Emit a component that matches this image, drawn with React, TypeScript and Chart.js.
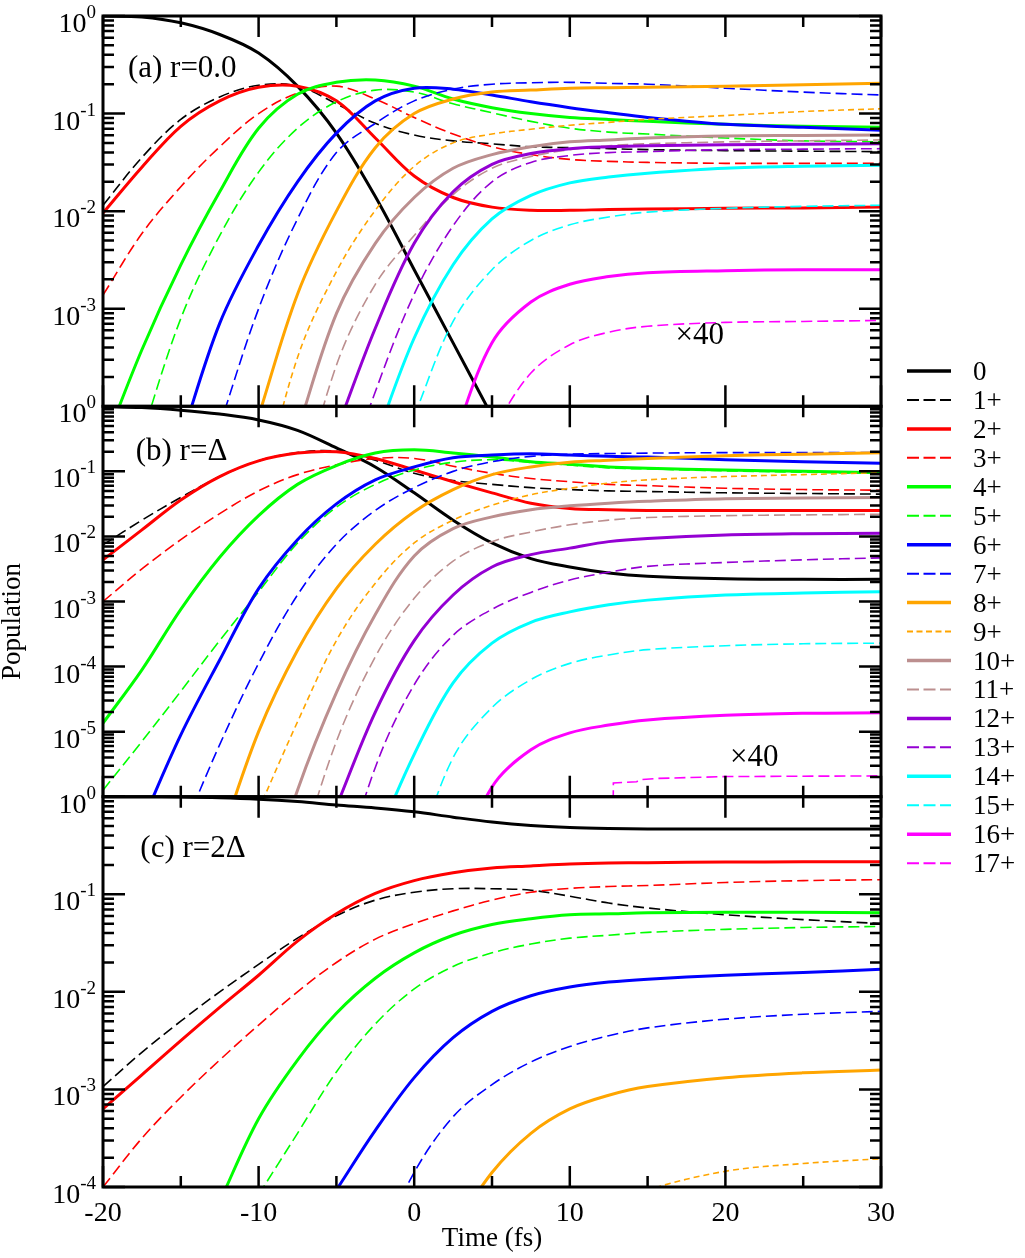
import React, { useEffect, useRef } from "react";
import { Chart, registerables } from "chart.js";

Chart.register(...registerables);

const _ = null;

// common time grid (fs)
const T = [-20, -17.5, -15, -12.5, -10, -7.5, -5, -2.5, 0, 2.5, 5, 7.5, 10, 12.5, 15, 20, 25, 30];

const SERIES_NAMES = ["0", "1+", "2+", "3+", "4+", "5+", "6+", "7+", "8+", "9+", "10+", "11+", "12+", "13+", "14+", "15+", "16+", "17+"];
const SERIES_COLORS = [
  "#000000", "#000000", "#ff0000", "#ff0000", "#00ff00", "#00ff00", "#0000ff", "#0000ff", "#ffa500",
  "#ffa500", "#bc8f8f", "#bc8f8f", "#9400d3", "#9400d3", "#00ffff", "#00ffff", "#ff00ff", "#ff00ff",
];

// ---------- panel (a) r = 0.0 ----------
const A0 = [1.0, 0.977, 0.851, 0.646, 0.417, 0.191, 0.0631, 0.0141, 0.00251, 4.47e-4, 7.94e-5, _, _, _, _, _, _, _];
const A1 = [1.15e-2, 3.55e-2, 8.71e-2, 0.148, 0.195, 0.191, 0.126, 0.0794, 0.0603, 0.0525, 0.049, 0.0457, 0.0447, 0.0437, 0.0427, 0.0417, 0.0412, 0.0407];
const A2 = [9.55e-3, 2.82e-2, 7.41e-2, 0.135, 0.186, 0.191, 0.135, 0.0562, 0.0229, 0.0138, 0.011, 0.0102, 0.0102, 0.0104, 0.0105, 0.0107, 0.0108, 0.011];
const A3 = [1.38e-3, 5.89e-3, 1.78e-2, 4.57e-2, 0.1, 0.162, 0.191, 0.141, 0.0912, 0.0617, 0.0457, 0.038, 0.0339, 0.0324, 0.0316, 0.0309, 0.0309, 0.0309];
const A4 = [3.72e-5, 3.8e-4, 2.82e-3, 1.58e-2, 7.08e-2, 0.158, 0.209, 0.221, 0.191, 0.141, 0.115, 0.1, 0.0912, 0.0871, 0.0832, 0.0776, 0.0741, 0.0724];
const A5 = [_, 5.01e-5, 7.94e-4, 5.62e-3, 2.51e-2, 7.08e-2, 0.132, 0.174, 0.166, 0.126, 0.102, 0.0832, 0.0708, 0.0646, 0.0617, 0.0562, 0.0525, 0.0513];
const A6 = [_, _, 4.47e-5, 7.08e-4, 4.47e-3, 2.0e-2, 6.31e-2, 0.135, 0.182, 0.178, 0.155, 0.132, 0.115, 0.102, 0.0912, 0.0776, 0.0724, 0.0676];
const A7 = [_, _, _, 6.31e-5, 1.0e-3, 8.32e-3, 3.98e-2, 7.94e-2, 0.135, 0.178, 0.2, 0.207, 0.209, 0.204, 0.2, 0.182, 0.166, 0.155];
const A8 = [_, _, _, _, 7.94e-5, 1.41e-3, 1.0e-2, 4.47e-2, 0.1, 0.141, 0.166, 0.174, 0.182, 0.184, 0.186, 0.191, 0.197, 0.204];
const A9 = [_, _, _, _, 1e-5, 3.16e-4, 2.4e-3, 1.02e-2, 2.88e-2, 5.01e-2, 6.17e-2, 6.92e-2, 7.59e-2, 8.13e-2, 8.71e-2, 9.55e-2, 0.105, 0.112];
const A10 = [_, _, _, _, _, 5.62e-5, 8.91e-4, 4.68e-3, 1.38e-2, 2.75e-2, 3.8e-2, 4.57e-2, 5.13e-2, 5.37e-2, 5.62e-2, 5.89e-2, 5.96e-2, 6.03e-2];
const A11 = [_, _, _, _, _, 1e-5, 2.63e-4, 1.78e-3, 5.62e-3, 1.48e-2, 2.75e-2, 3.63e-2, 4.27e-2, 4.68e-2, 4.9e-2, 5.13e-2, 5.25e-2, 5.37e-2];
const A12 = [_, _, _, _, _, _, 5.62e-5, 6.31e-4, 4.68e-3, 1.58e-2, 3.02e-2, 3.89e-2, 4.37e-2, 4.57e-2, 4.68e-2, 4.79e-2, 4.84e-2, 4.9e-2];
const A13 = [_, _, _, _, _, _, 1e-5, 1.41e-4, 1.41e-3, 7.08e-3, 2.0e-2, 3.16e-2, 3.72e-2, 3.98e-2, 4.07e-2, 4.27e-2, 4.32e-2, 4.37e-2];
const A14 = [_, _, _, _, _, _, _, 4.47e-5, 5.01e-4, 2.82e-3, 8.32e-3, 1.45e-2, 1.95e-2, 2.24e-2, 2.45e-2, 2.75e-2, 2.88e-2, 2.95e-2];
const A15 = [_, _, _, _, _, _, _, _, 7.94e-5, 7.41e-4, 2.51e-3, 5.01e-3, 7.24e-3, 8.71e-3, 9.77e-3, 1.07e-2, 1.12e-2, 1.15e-2];
const A16 = [_, _, _, _, _, _, _, _, _, 4.47e-5, 4.47e-4, 1.17e-3, 1.78e-3, 2.14e-3, 2.34e-3, 2.45e-3, 2.51e-3, 2.51e-3];
const A17 = [_, _, _, _, _, _, _, _, _, _, 5.62e-5, 2.19e-4, 4.27e-4, 5.75e-4, 6.61e-4, 7.24e-4, 7.41e-4, 7.59e-4];

// ---------- panel (b) r = Δ ----------
const B0 = [0.989, 0.955, 0.871, 0.759, 0.617, 0.427, 0.229, 0.117, 0.0468, 0.0178, 7.94e-3, 4.57e-3, 3.39e-3, 2.75e-3, 2.45e-3, 2.24e-3, 2.19e-3, 2.19e-3];
const B1 = [7.41e-3, 1.78e-2, 3.98e-2, 8.32e-2, 0.145, 0.195, 0.204, 0.148, 0.0933, 0.0724, 0.0631, 0.0562, 0.0525, 0.0501, 0.049, 0.0468, 0.0457, 0.0447];
const B2 = [4.37e-3, 1.26e-2, 3.63e-2, 8.32e-2, 0.145, 0.191, 0.2, 0.158, 0.105, 0.0692, 0.0468, 0.0324, 0.0269, 0.0257, 0.0251, 0.0251, 0.0251, 0.0251];
const B3 = [1e-3, 3.16e-3, 8.91e-3, 2.24e-2, 5.01e-2, 8.91e-2, 0.126, 0.158, 0.158, 0.12, 0.0933, 0.0776, 0.0692, 0.0631, 0.0603, 0.055, 0.0525, 0.0513];
const B4 = [1.35e-5, 8.91e-5, 7.59e-4, 4.79e-3, 2.09e-2, 6.31e-2, 0.123, 0.191, 0.214, 0.191, 0.166, 0.141, 0.129, 0.117, 0.112, 0.105, 0.1, 0.0955];
const B5 = [1.26e-6, 7.08e-6, 4.17e-5, 2.51e-4, 1.41e-3, 7.94e-3, 2.82e-2, 6.31e-2, 0.105, 0.138, 0.151, 0.137, 0.125, 0.113, 0.109, 0.102, 0.097, 0.093];
const B6 = [_, 3.98e-7, 8.91e-6, 1.26e-4, 1.58e-3, 8.91e-3, 3.16e-2, 7.41e-2, 0.117, 0.162, 0.178, 0.186, 0.178, 0.17, 0.166, 0.151, 0.141, 0.133];
const B7 = [_, _, 2.51e-7, 6.31e-6, 1.12e-4, 1.26e-3, 7.59e-3, 2.51e-2, 5.62e-2, 0.1, 0.141, 0.17, 0.184, 0.188, 0.191, 0.194, 0.194, 0.194];
const B8 = [_, _, _, 2.0e-7, 1e-5, 1.78e-4, 1.58e-3, 7.59e-3, 2.4e-2, 5.25e-2, 8.91e-2, 0.117, 0.138, 0.148, 0.158, 0.174, 0.184, 0.194];
const B9 = [_, _, _, _, 6.31e-7, 1.41e-5, 2.51e-4, 1.91e-3, 7.94e-3, 1.78e-2, 3.02e-2, 4.37e-2, 5.5e-2, 6.61e-2, 7.41e-2, 8.32e-2, 8.91e-2, 9.55e-2];
const B10 = [_, _, _, _, 1.58e-8, 1.26e-6, 3.98e-5, 6.31e-4, 5.01e-3, 1.32e-2, 2.0e-2, 2.57e-2, 2.95e-2, 3.24e-2, 3.47e-2, 3.8e-2, 3.89e-2, 3.98e-2];
const B11 = [_, _, _, _, _, 1e-7, 7.08e-6, 1.41e-4, 1.12e-3, 4.17e-3, 8.32e-3, 1.17e-2, 1.51e-2, 1.78e-2, 1.95e-2, 2.09e-2, 2.14e-2, 2.19e-2];
const B12 = [_, _, _, _, _, _, 7.08e-7, 2.0e-5, 2.51e-4, 1.26e-3, 3.39e-3, 5.25e-3, 6.61e-3, 8.32e-3, 9.33e-3, 1.05e-2, 1.1e-2, 1.12e-2];
const B13 = [_, _, _, _, _, _, 3.16e-8, 2.82e-6, 5.25e-5, 3.02e-4, 7.59e-4, 1.38e-3, 2.14e-3, 2.82e-3, 3.47e-3, 3.98e-3, 4.37e-3, 4.68e-3];
const B14 = [_, _, _, _, _, _, _, 2.0e-7, 4.47e-6, 5.62e-5, 2.29e-4, 4.79e-4, 6.92e-4, 8.91e-4, 1.05e-3, 1.26e-3, 1.35e-3, 1.41e-3];
const B15 = [_, _, _, _, _, _, _, _, 1e-7, 3.98e-6, 2.34e-5, 6.31e-5, 1.12e-4, 1.51e-4, 1.82e-4, 2.09e-4, 2.24e-4, 2.29e-4];
const B16 = [_, _, _, _, _, _, _, _, _, 6.31e-8, 1.41e-6, 5.25e-6, 9.55e-6, 1.26e-5, 1.51e-5, 1.78e-5, 1.91e-5, 1.95e-5];
const T_B17 = [12.75, 12.8, 14.3, 14.5, 15.6, 20.1, 30];
const B17 = [5e-8, 1.62e-6, 1.7e-6, 1.82e-6, 1.91e-6, 2.04e-6, 2.09e-6];

// ---------- panel (c) r = 2Δ ----------
const C0 = [1.0, 0.998, 0.993, 0.977, 0.944, 0.891, 0.822, 0.767, 0.7, 0.617, 0.55, 0.507, 0.484, 0.473, 0.468, 0.468, 0.468, 0.468];
const C1 = [1.07e-3, 2.4e-3, 5.01e-3, 1.0e-2, 1.91e-2, 3.55e-2, 6.03e-2, 8.71e-2, 0.105, 0.114, 0.114, 0.11, 0.0955, 0.0813, 0.0724, 0.0617, 0.055, 0.0501];
const C2 = [6.31e-4, 1.41e-3, 3.16e-3, 6.92e-3, 1.48e-2, 3.31e-2, 6.31e-2, 0.102, 0.138, 0.166, 0.186, 0.195, 0.204, 0.209, 0.211, 0.214, 0.215, 0.216];
const C3 = [1e-4, 3.16e-4, 8.32e-4, 2.0e-3, 4.57e-3, 1e-2, 2.0e-2, 3.47e-2, 5.01e-2, 6.76e-2, 8.71e-2, 0.105, 0.115, 0.12, 0.123, 0.132, 0.138, 0.141];
const C4 = [_, _, _, 7.08e-5, 5.01e-4, 2.0e-3, 6.03e-3, 1.38e-2, 2.51e-2, 3.8e-2, 4.9e-2, 5.62e-2, 6.17e-2, 6.31e-2, 6.46e-2, 6.53e-2, 6.53e-2, 6.46e-2];
const C5 = [_, _, _, _, 8.32e-5, 3.55e-4, 1.51e-3, 4.68e-3, 1.07e-2, 1.82e-2, 2.51e-2, 3.09e-2, 3.55e-2, 3.8e-2, 4.07e-2, 4.37e-2, 4.57e-2, 4.68e-2];
const C6 = [_, _, _, _, _, _, 9.33e-5, 3.8e-4, 1.32e-3, 3.39e-3, 6.31e-3, 9.12e-3, 1.12e-2, 1.26e-2, 1.35e-2, 1.48e-2, 1.58e-2, 1.7e-2];
const C7 = [_, _, _, _, _, _, _, 2.0e-5, 1.41e-4, 5.25e-4, 1.12e-3, 1.91e-3, 2.75e-3, 3.55e-3, 4.27e-3, 5.25e-3, 5.89e-3, 6.31e-3];
const C8 = [_, _, _, _, _, _, _, _, _, 3.55e-5, 1.41e-4, 3.55e-4, 6.31e-4, 8.71e-4, 1.07e-3, 1.32e-3, 1.48e-3, 1.58e-3];
const C9 = [_, _, _, _, _, _, _, _, _, _, _, _, _, 6.31e-5, 9.33e-5, 1.45e-4, 1.74e-4, 1.95e-4];

const X_TICK_LABELS = [-20, -10, 0, 10, 20, 30];
const Y_EXP_A = [0, -1, -2, -3];
const Y_EXP_B = [0, -1, -2, -3, -4, -5];
const Y_EXP_C = [0, -1, -2, -3, -4];

// ---------- layout / style ----------
const W = 1025;
const H = 1258;
const PLOT_LEFT = 103;
const PLOT_RIGHT = 881;
const FONT = '"Liberation Serif", "Times New Roman", serif';

type Series = { t: number[]; v: (number | null)[]; linear?: boolean };

const S = (v: (number | null)[]): Series => ({ t: T, v });

const PANELS = [
  {
    top: 16, bottom: 406.3, min: 1e-4, max: 1, exps: Y_EXP_A,
    series: [A0, A1, A2, A3, A4, A5, A6, A7, A8, A9, A10, A11, A12, A13, A14, A15, A16, A17].map(S),
    tag: "(a) r=0.0", tagAt: [-18.4, 0.237], noteAt: [16.8, 4.3e-4],
    legend: true, yTitle: false, xLabels: false,
  },
  {
    top: 406.3, bottom: 796.7, min: 1e-6, max: 1, exps: Y_EXP_B,
    series: [...[B0, B1, B2, B3, B4, B5, B6, B7, B8, B9, B10, B11, B12, B13, B14, B15, B16].map(S), { t: T_B17, v: B17, linear: true }],
    tag: "(b) r=\u0394", tagAt: [-17.9, 0.15], noteAt: [20.3, 2.95e-6],
    legend: false, yTitle: true, xLabels: false,
  },
  {
    top: 796.7, bottom: 1187, min: 1e-4, max: 1, exps: Y_EXP_C,
    series: [C0, C1, C2, C3, C4, C5, C6, C7, C8, C9].map(S),
    tag: "(c) r=2\u0394", tagAt: [-17.6, 0.241], noteAt: null,
    legend: false, yTitle: false, xLabels: true,
  },
];

const dashFor = (i: number) => (i % 2 === 0 ? [] : i === 9 ? [6, 4] : [11, 5]);

function decorPlugin(p: any) {
  return {
    id: "decor",
    afterDatasetsDraw(chart: any) {
      const ctx: CanvasRenderingContext2D = chart.ctx;
      const xs = chart.scales.x;
      const ys = chart.scales.y;
      const { left, right, top, bottom } = chart.chartArea;
      ctx.save();
      ctx.strokeStyle = "#000";
      ctx.fillStyle = "#000";

      // ticks
      ctx.lineWidth = 2.5;
      ctx.beginPath();
      for (let t = -20; t <= 30; t += 5) {
        const x = xs.getPixelForValue(t);
        const len = t % 10 === 0 ? 21 : 11;
        ctx.moveTo(x, top);
        ctx.lineTo(x, top + len);
        ctx.moveTo(x, bottom);
        ctx.lineTo(x, bottom - len);
      }
      const lo = Math.round(Math.log10(p.min));
      const hi = Math.round(Math.log10(p.max));
      for (let d = lo; d <= hi; d++) {
        const y = ys.getPixelForValue(Math.pow(10, d));
        ctx.moveTo(left, y);
        ctx.lineTo(left + 22, y);
        ctx.moveTo(right, y);
        ctx.lineTo(right - 22, y);
        if (d < hi) {
          for (let m = 2; m <= 9; m++) {
            const ym = ys.getPixelForValue(m * Math.pow(10, d));
            ctx.moveTo(left, ym);
            ctx.lineTo(left + 11, ym);
            ctx.moveTo(right, ym);
            ctx.lineTo(right - 11, ym);
          }
        }
      }
      ctx.stroke();

      // frame
      ctx.lineWidth = 3;
      ctx.strokeRect(left, top, right - left, bottom - top);

      // y tick labels 10^n
      ctx.textBaseline = "alphabetic";
      ctx.textAlign = "left";
      for (const e of p.exps) {
        const y = ys.getPixelForValue(Math.pow(10, e));
        ctx.font = `28px ${FONT}`;
        const bw = ctx.measureText("10").width;
        ctx.font = `19px ${FONT}`;
        const es = String(e);
        const ew = ctx.measureText(es).width;
        const x0 = left - 7 - ew - bw;
        ctx.font = `28px ${FONT}`;
        ctx.fillText("10", x0, y + 16);
        ctx.font = `19px ${FONT}`;
        ctx.fillText(es, x0 + bw, y + 2);
      }

      // panel tag and note
      ctx.font = `31px ${FONT}`;
      ctx.fillText(p.tag, xs.getPixelForValue(p.tagAt[0]), ys.getPixelForValue(p.tagAt[1]));
      if (p.noteAt) {
        ctx.font = `31px ${FONT}`;
        ctx.fillText("\u00d740", xs.getPixelForValue(p.noteAt[0]), ys.getPixelForValue(p.noteAt[1]));
      }

      // x tick labels & title
      if (p.xLabels) {
        ctx.font = `28px ${FONT}`;
        ctx.textAlign = "center";
        for (const t of X_TICK_LABELS) {
          ctx.fillText(String(t), xs.getPixelForValue(t), bottom + 34);
        }
        ctx.font = `27px ${FONT}`;
        ctx.fillText("Time (fs)", (left + right) / 2, bottom + 59);
      }

      if (p.yTitle) {
        ctx.save();
        ctx.translate(20, (top + bottom) / 2 + 20);
        ctx.rotate(-Math.PI / 2);
        ctx.font = `27px ${FONT}`;
        ctx.textAlign = "center";
        ctx.textBaseline = "alphabetic";
        ctx.fillText("Population", 0, 0);
        ctx.restore();
      }

      // legend
      if (p.legend) {
        const y0 = 371;
        const dy = 28.95;
        for (let i = 0; i < SERIES_NAMES.length; i++) {
          const y = y0 + i * dy;
          ctx.save();
          ctx.strokeStyle = SERIES_COLORS[i];
          ctx.lineWidth = i % 2 === 0 ? 3.5 : 2;
          ctx.setLineDash(i % 2 === 0 ? [] : i === 9 ? [6, 3.5] : [12, 4.5]);
          ctx.beginPath();
          ctx.moveTo(907, y);
          ctx.lineTo(951, y);
          ctx.stroke();
          ctx.restore();
          ctx.font = `27px ${FONT}`;
          ctx.textAlign = "left";
          ctx.textBaseline = "alphabetic";
          ctx.fillStyle = "#000";
          ctx.fillText(SERIES_NAMES[i], 973, y + 9);
        }
      }
      ctx.restore();
    },
  };
}

function buildChart(canvas: HTMLCanvasElement, p: any) {
  const datasets = p.series.map((s: Series, i: number) => ({
    label: SERIES_NAMES[i],
    data: s.t.map((t, k) => ({ x: t, y: s.v[k] })),
    borderColor: SERIES_COLORS[i],
    backgroundColor: SERIES_COLORS[i],
    borderWidth: i % 2 === 0 ? 3 : 1.6,
    borderDash: dashFor(i),
    pointRadius: 0,
    pointHoverRadius: 0,
    fill: false,
    tension: s.linear ? 0 : 0.35,
    cubicInterpolationMode: "default",
    spanGaps: false,
    clip: 0,
    order: 40 - i,
  }));
  return new Chart(canvas, {
    type: "line",
    data: { datasets },
    options: {
      animation: false,
      responsive: false,
      maintainAspectRatio: false,
      events: [],
      layout: {
        padding: { left: PLOT_LEFT, right: W - PLOT_RIGHT, top: p.top, bottom: H - p.bottom },
      },
      plugins: { legend: { display: false }, tooltip: { enabled: false }, title: { display: false } },
      scales: {
        x: { type: "linear", min: -20, max: 30, display: false },
        y: { type: "logarithmic", min: p.min, max: p.max, display: false },
      },
    } as any,
    plugins: [decorPlugin(p)],
  });
}

export default function App() {
  const r0 = useRef<HTMLCanvasElement>(null);
  const r1 = useRef<HTMLCanvasElement>(null);
  const r2 = useRef<HTMLCanvasElement>(null);

  useEffect(() => {
    const refs = [r0, r1, r2];
    const charts = PANELS.map((p, i) => buildChart(refs[i].current as HTMLCanvasElement, p));
    return () => charts.forEach((c) => c.destroy());
  }, []);

  const cstyle: React.CSSProperties = { position: "absolute", left: 0, top: 0, width: W, height: H, display: "block" };
  return (
    <div style={{ position: "absolute", left: 0, top: 0, width: W, height: H, overflow: "hidden", background: "#fff" }}>
      <canvas ref={r0} width={W} height={H} style={cstyle} />
      <canvas ref={r1} width={W} height={H} style={cstyle} />
      <canvas ref={r2} width={W} height={H} style={cstyle} />
    </div>
  );
}
